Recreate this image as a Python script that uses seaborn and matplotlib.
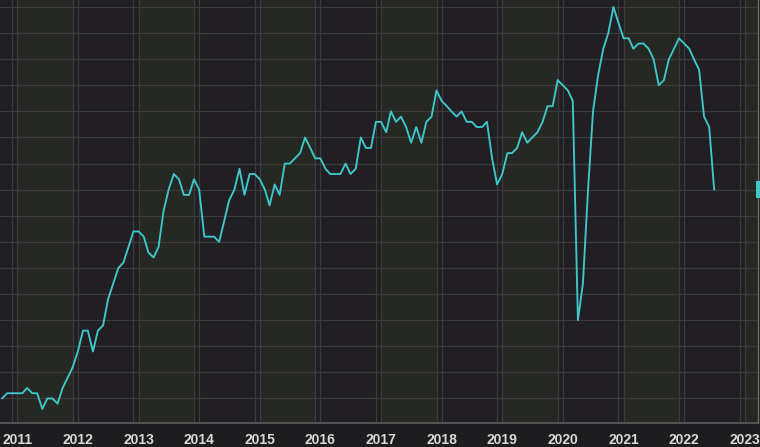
import numpy as np
import pandas as pd
import matplotlib
matplotlib.use("Agg")
import matplotlib.pyplot as plt
import matplotlib.transforms as mtransforms
from matplotlib.patches import Rectangle
import seaborn as sns

# ---- data (monthly) ----
start_month = "2010-10-01"
values_2010 = [15, 16, 16]
values_2011 = [16, 16, 17, 16, 16, 13, 15, 15, 14, 17, 19, 21]
values_2012 = [24, 28, 28, 24, 28, 29, 34, 37, 40, 41, 44, 47]
values_2013 = [47, 46, 43, 42, 44, 51, 55, 58, 57, 54, 54, 57]
values_2014 = [55, 46, 46, 46, 45, 49, 53, 55, 59, 54, 58, 58]
values_2015 = [57, 55, 52, 56, 54, 60, 60, 61, 62, 65, 63, 61]
values_2016 = [61, 59, 58, 58, 58, 60, 58, 59, 65, 63, 63, 68]
values_2017 = [68, 66, 70, 68, 69, 67, 64, 67, 64, 68, 69, 74]
values_2018 = [72, 71, 70, 69, 70, 68, 68, 67, 67, 68, 61, 56]
values_2019 = [58, 62, 62, 63, 66, 64, 65, 66, 68, 71, 71, 76]
values_2020 = [75, 74, 72, 30, 37, 55, 70, 77, 82, 85, 90, 87]
values_2021 = [84, 84, 82, 83, 83, 82, 80, 75, 76, 80, 82, 84]
values_2022 = [83, 82, 80, 78, 69, 67, 55]

years = list(range(2011, 2024))
year_labels = [str(y) for y in years]
grid_levels = list(range(15, 95, 5))

values = (values_2010 + values_2011 + values_2012 + values_2013 + values_2014
          + values_2015 + values_2016 + values_2017 + values_2018 + values_2019
          + values_2020 + values_2021 + values_2022)
dates = pd.date_range(start_month, periods=len(values), freq="MS")
df = pd.DataFrame({"date": dates, "value": values})

# ---- style ----
sns.set_theme(style="dark")
plt.rcParams["font.family"] = ["Liberation Sans Narrow", "Liberation Sans", "DejaVu Sans"]

BG = "#1d1c1e"
BAND_DARK = "#211f23"
BAND_GREEN = "#252823"
GRID = "#3b3b3b"
LINE = "#3ec8c9"

fig = plt.figure(figsize=(7.6, 4.47), dpi=100, facecolor=BG)
ax = fig.add_axes([0, 24 / 447, 758 / 760, 423 / 447])
ax.set_facecolor(BAND_DARK)

# alternating yearly bands
for y in range(2009, 2025):
    if y % 2 == 1:
        ax.axvspan(pd.Timestamp(f"{y}-01-01"), pd.Timestamp(f"{y}-12-01"),
                   color=BAND_GREEN, lw=0, zorder=0)
# vertical grid pairs
for y in range(2010, 2025):
    ax.axvline(pd.Timestamp(f"{y}-01-01"), color=GRID, lw=0.9, zorder=1)
    ax.axvline(pd.Timestamp(f"{y - 1}-12-01"), color=GRID, lw=0.9, zorder=1)

sns.lineplot(data=df, x="date", y="value", ax=ax, color=LINE, lw=1.35, zorder=3)

ax.set_xlim(pd.Timestamp("2010-09-19"), pd.Timestamp("2023-03-22"))
ax.set_ylim(10.3, 91.34)

ax.set_yticks(grid_levels)
ax.set_yticklabels([])
ax.tick_params(axis="y", length=0)
ax.yaxis.grid(True, color=GRID, lw=0.9)
ax.xaxis.grid(False)
ax.set_axisbelow(True)

ax.set_xticks([pd.Timestamp(f"{y}-01-01") for y in years])
ax.set_xticklabels(year_labels, fontweight="bold")
ax.tick_params(axis="x", direction="out", length=4, width=1, color="#bdbdbd",
               labelcolor="#d9d9d9", labelsize=10, pad=3)
ax.set_xlabel("")
ax.set_ylabel("")

for side in ["left", "top"]:
    ax.spines[side].set_visible(False)
ax.spines["bottom"].set_color("#5e5e5e")
ax.spines["bottom"].set_linewidth(1.2)
ax.spines["right"].set_color("#6a6a6a")
ax.spines["right"].set_linewidth(1.0)

# last value tag on the right axis (only its edge is visible)
trans = mtransforms.blended_transform_factory(ax.transAxes, ax.transData)
ax.add_patch(Rectangle((0.997, values[-1] - 1.6), 0.03, 3.2, transform=trans,
                       facecolor=LINE, edgecolor="none", clip_on=False, zorder=6))

fig.savefig("out.png", dpi=100, facecolor=BG)
